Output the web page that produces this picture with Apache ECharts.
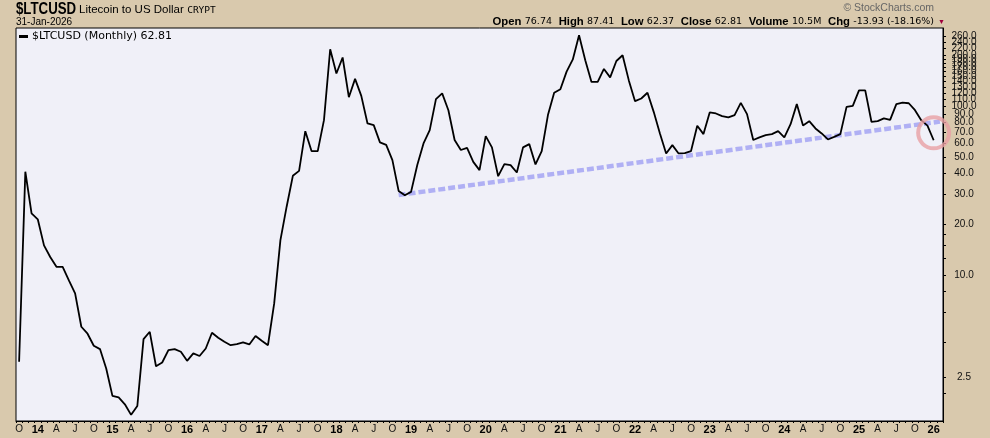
<!DOCTYPE html>
<html>
<head>
<meta charset="utf-8">
<script src="https://cdn.jsdelivr.net/npm/echarts@6/dist/echarts.min.js"></script>
<style>
  html, body { margin: 0; padding: 0; background: #d9c9ad; }
  #chart { width: 990px; height: 438px; }
</style>
</head>
<body>
<div id="chart"></div>
<script>
// monthly closes, Oct 2013 .. Jan 2026
const prices = [
  3.07, 40.9, 23.2, 21.4, 15.0, 12.8, 11.2, 11.2, 9.3, 7.8, 4.95, 4.5,
  3.82, 3.65, 2.80, 1.93, 1.89, 1.72, 1.49, 1.68, 4.18, 4.62, 2.89, 3.04,
  3.6, 3.65, 3.52, 3.11, 3.44, 3.32, 3.68, 4.56, 4.26, 4.03, 3.85, 3.9,
  4.0, 3.89, 4.36, 4.09, 3.85, 6.8, 16.1, 25.4, 38.7, 41.4, 71.1, 54.2,
  54.2, 82.6, 217, 156, 194, 113, 145, 115, 79, 77.2, 61, 59,
  47.9, 31.5, 29.7, 31.1, 44.8, 60.2, 72.1, 110, 119, 94.6, 63, 55,
  56.6, 46.8, 41.8, 66.4, 57.0, 38.5, 45.4, 44.8, 40.5, 57.0, 59.6, 45.2,
  54.2, 88.5, 120, 126, 160, 189, 263, 187, 139, 139, 166, 148,
  185, 200, 142, 107, 111, 120, 92.5, 68.9, 52.5, 58.8, 52.5, 52.7,
  54.2, 76.5, 68.3, 91.8, 90.5, 87.3, 85.7, 88.5, 104.6, 89.7, 63, 65.3,
  67.3, 68.3, 71.1, 65.3, 78.2, 102.8, 76.9, 81.5, 73.8, 68.9, 63.5, 65.8,
  68.3, 99, 100.4, 124, 124, 80.8, 81.5, 84.6, 83, 102.8, 105, 104,
  94.6, 82.6, 76.74, 62.81
]

// months Oct 2013 .. Feb 2026
const months = []
for (let y = 2013, m = 10; ; m++) {
  if (m > 12) { m = 1; y++ }
  months.push(y + '-' + (m < 10 ? '0' + m : m))
  if (y === 2026 && m === 2) break
}

// support line drawn on the chart (start / end)
const trendStart = ['2018-11', 29.8]
const trendEnd = ['2026-02', 81]
// highlight circle
const circleAt = ['2026-01', 69.5]

const yLabels = [2.5, 10, 20, 30, 40, 50, 60, 70, 80, 90, 100, 110, 120, 130,
  140, 150, 160, 170, 180, 190, 200, 220, 240, 260, 280]
const yTicks = yLabels.concat([2, 4, 6, 8, 12.5, 15, 17.5])

const quarterText = { '04': 'A', '07': 'J', '10': 'O' }

const chart = echarts.init(document.getElementById('chart'))
chart.setOption({
  backgroundColor: '#d9c9ad',
  animation: false,
  textStyle: { fontFamily: 'Liberation Sans, Arial, sans-serif' },
  grid: {
    left: 16,
    right: 47,
    top: 28,
    bottom: 17,
    show: true,
    backgroundColor: '#f0f0f8',
    borderColor: '#000',
    borderWidth: 1
  },
  legend: {
    left: 19,
    top: 31,
    padding: 0,
    itemWidth: 9,
    itemHeight: 3,
    itemGap: 4,
    data: [{ name: '$LTCUSD', icon: 'rect' }],
    formatter: function (name) { return name + ' (Monthly) 62.81' },
    textStyle: { fontFamily: 'DejaVu Sans', fontSize: 11, color: '#000', padding: [0, 0, 0, -1] }
  },
  graphic: [
    {
      type: 'text',
      left: 16,
      top: 1,
      scaleX: 0.78,
      style: {
        text: '$LTCUSD',
        fontFamily: 'Liberation Sans, sans-serif',
        fontWeight: 'bold',
        fontSize: 17,
        fill: '#000'
      }
    },
    {
      type: 'text',
      left: 79,
      top: 3,
      style: {
        text: '{b|Litecoin to US Dollar} {c|CRYPT}',
        rich: {
          b: { fontFamily: 'Liberation Sans, sans-serif', fontSize: 11.5, fill: '#000', verticalAlign: 'bottom', lineHeight: 13 },
          c: { fontFamily: 'DejaVu Sans Mono, monospace', fontSize: 9.5, fill: '#000', verticalAlign: 'bottom', lineHeight: 13 }
        }
      }
    },
    {
      type: 'text',
      left: 16,
      top: 17,
      style: { text: '31-Jan-2026', fontFamily: 'Liberation Sans, sans-serif', fontSize: 10, fill: '#000' }
    },
    {
      type: 'text',
      right: 56,
      top: 3,
      style: { text: '© StockCharts.com', fontFamily: 'Liberation Sans, sans-serif', fontSize: 10.5, fill: '#666' }
    },
    {
      type: 'text',
      right: 56,
      top: 16,
      style: {
        text: '{k|Open} {v|76.74}  {k|High} {v|87.41}  {k|Low} {v|62.37}  {k|Close} {v|62.81}  {k|Volume} {v|10.5M}  {k|Chg} {v|-13.93 (-18.16%)}',
        rich: {
          k: { fontFamily: 'Liberation Sans, sans-serif', fontWeight: 'bold', fontSize: 11.3, fill: '#000' },
          v: { fontFamily: 'DejaVu Sans, sans-serif', fontSize: 9.5, fill: '#000' }
        }
      }
    },
    {
      type: 'text',
      right: 45,
      top: 19,
      style: { text: '▼', fontSize: 7, fill: '#a0003c' }
    }
  ],
  xAxis: {
    type: 'category',
    data: months,
    boundaryGap: true,
    axisLine: { lineStyle: { color: '#000', width: 1 } },
    axisTick: { show: true, interval: 0, length: 2, lineStyle: { color: '#000' } },
    axisLabel: {
      interval: function (i, v) {
        const m = v.slice(5)
        return m === '01' || quarterText[m] !== undefined
      },
      margin: 3,
      fontSize: 10,
      color: '#111',
      formatter: function (v) {
        const m = v.slice(5)
        if (m === '01') return '{y|' + v.slice(2, 4) + '}'
        return quarterText[m] || ''
      },
      rich: { y: { fontWeight: 'bold', fontSize: 11, color: '#000' } }
    },
    splitLine: { show: false }
  },
  yAxis: {
    type: 'log',
    position: 'right',
    min: 1.37,
    max: 290,
    axisLine: { show: true, lineStyle: { color: '#000' } },
    axisTick: { show: true, length: 3, customValues: yTicks, lineStyle: { color: '#000' } },
    minorTick: { show: false },
    splitLine: { show: false },
    axisLabel: {
      customValues: yLabels,
      hideOverlap: false,
      margin: 21,
      align: 'center',
      fontSize: 10,
      color: '#111',
      formatter: function (v) { return Number(v).toFixed(1) }
    }
  },
  series: [
    {
      name: '$LTCUSD',
      type: 'line',
      data: prices,
      symbol: 'none',
      color: '#000',
      lineStyle: { color: '#000', width: 1.8 },
      z: 3
    },
    {
      name: 'trend',
      type: 'line',
      data: [trendStart, trendEnd],
      symbol: 'none',
      lineStyle: { color: '#b0b0f4', width: 4.5, type: [7, 3] },
      z: 2
    },
    {
      name: 'circle',
      type: 'scatter',
      data: [circleAt],
      symbol: 'circle',
      symbolSize: 31,
      clip: false,
      itemStyle: { color: 'rgba(0,0,0,0)', borderColor: '#e8a0a4', borderWidth: 4 },
      z: 4
    }
  ]
})
</script>
</body>
</html>
